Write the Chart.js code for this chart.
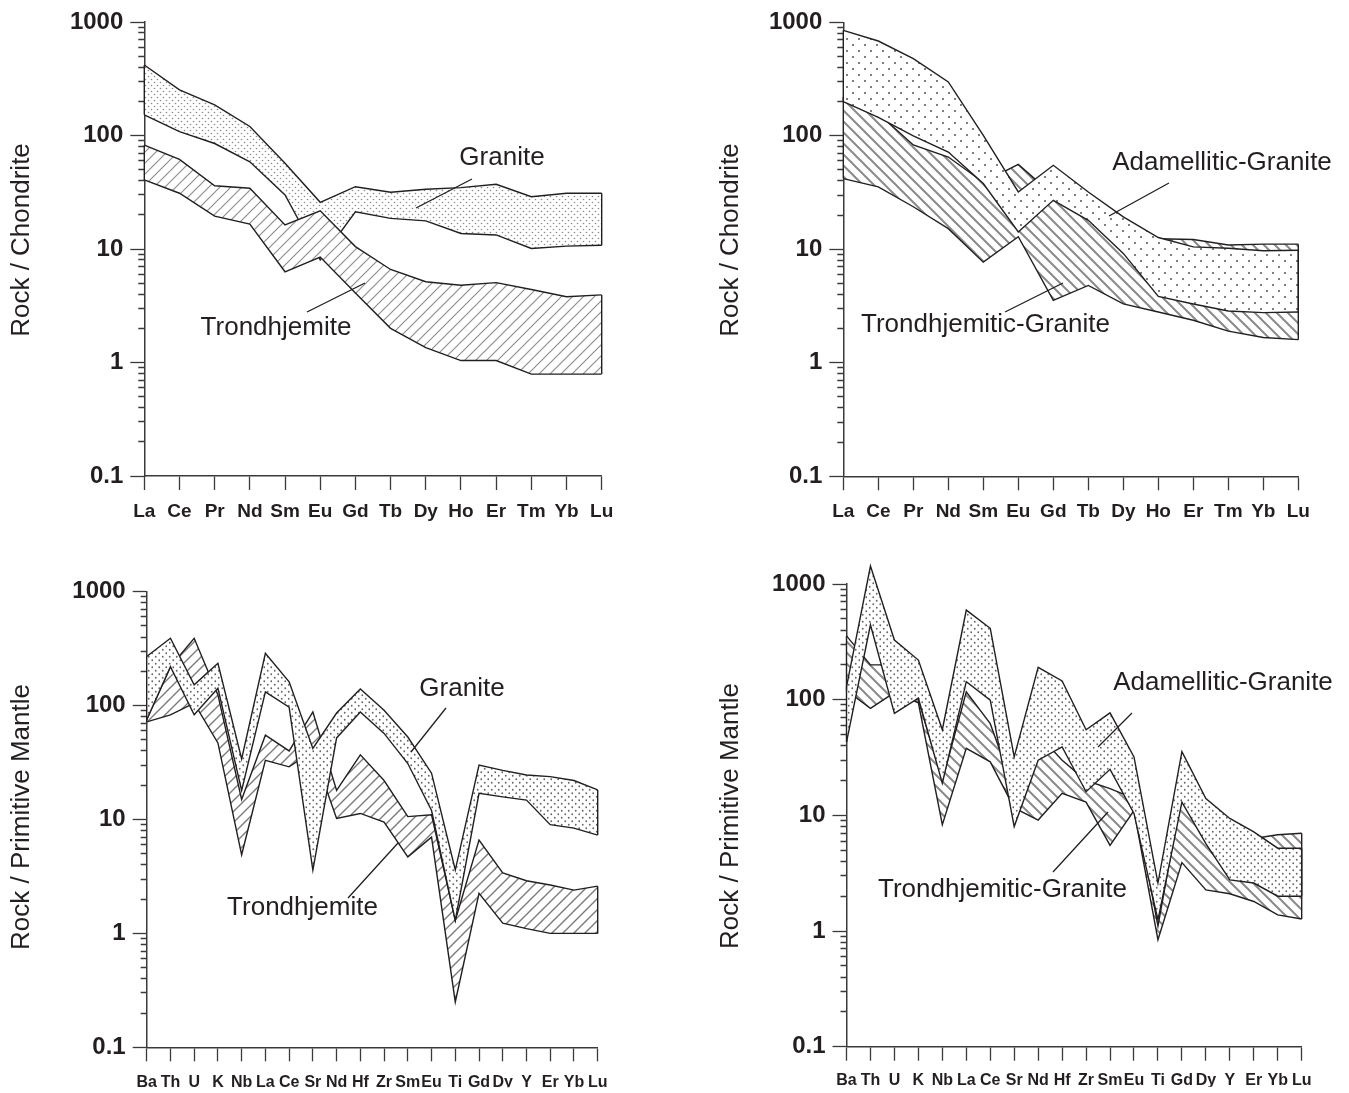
<!DOCTYPE html>
<html>
<head>
<meta charset="utf-8">
<script src="https://cdn.jsdelivr.net/npm/chart.js@4.4.0/dist/chart.umd.min.js"></script>
<style>
  html, body { margin: 0; padding: 0; background: #fff; }
  #wrap { position: relative; width: 1349px; height: 1093px; overflow: hidden; }
  .panel { position: absolute; }
</style>
</head>
<body>
<div id="wrap">
  <div class="panel" style="left:0;top:0"><canvas id="c1" width="640" height="545"></canvas></div>
  <div class="panel" style="left:700px;top:0"><canvas id="c2" width="649" height="545"></canvas></div>
  <div class="panel" style="left:0;top:550px"><canvas id="c3" width="640" height="543"></canvas></div>
  <div class="panel" style="left:700px;top:550px"><canvas id="c4" width="649" height="543"></canvas></div>
</div>
<script>
// categories
const reeLabels = ['La', 'Ce', 'Pr', 'Nd', 'Sm', 'Eu', 'Gd', 'Tb', 'Dy', 'Ho', 'Er', 'Tm', 'Yb', 'Lu'];
const spiderLabels = ['Ba', 'Th', 'U', 'K', 'Nb', 'La', 'Ce', 'Sr', 'Nd', 'Hf', 'Zr', 'Sm', 'Eu', 'Ti', 'Gd', 'Dy', 'Y', 'Er', 'Yb', 'Lu'];
const yMajorTicks = [0.1, 1, 10, 100, 1000];

// top left: REE / chondrite
const p1GraniteHi = [418, 252, 186, 120, 57, 25.8, 35.4, 31.6, 33.6, 34.7, 37.2, 28.9, 31, 31];
const p1GraniteLo = [152, 108, 85, 58.7, 29.9, 8, 21.3, 18.6, 17.7, 13.7, 13.3, 10.1, 10.6, 10.8];
const p1TrondHi = [82.4, 61.6, 36.1, 34.3, 16.3, 21.7, 10.5, 6.6, 5.15, 4.8, 5.05, 4.4, 3.8, 3.94];
const p1TrondLo = [40.6, 31, 19.5, 16.6, 6.3, 8.5, 4.1, 2.0, 1.35, 1.04, 1.04, 0.79, 0.79, 0.79];

// top right: REE / chondrite
const p2AdamHi = [850, 684, 479, 298, 101, 32, 55, 32, 19.3, 12.7, 10.5, 10.2, 9.7, 9.8];
const p2AdamLo = [200, 145, 100, 72, 38, 14.2, 27, 18, 9.2, 3.85, 3.3, 2.86, 2.77, 2.8];
const p2TrondHi = [221, 157, 83, 65, 39, 56, 30, 20, 11, 12.4, 12.2, 10.9, 11.1, 11.1];
const p2TrondLo = [42, 35.5, 23.7, 15.2, 7.7, 12.9, 3.55, 4.8, 3.3, 2.8, 2.37, 1.9, 1.67, 1.6];

// bottom left: spider / primitive mantle
const p3GraniteHi = [270, 390, 152, 235, 34, 288, 162, 42, 86, 140, 91, 53, 25.5, 3.6, 30, 27, 24.6, 23.8, 22, 18.2];
const p3GraniteLo = [75, 220, 83, 142, 18, 132, 97, 3.6, 52, 88, 57, 31, 12, 1.3, 17, 15.8, 14.8, 9, 8.4, 7.3];
const p3TrondHi = [75, 220, 390, 124, 15, 55, 40, 88, 18, 37, 22, 10.6, 11, 1.3, 6.6, 3.4, 2.9, 2.66, 2.4, 2.6];
const p3TrondLo = [72, 83, 105, 47, 4.9, 33, 29, 40, 10.2, 11.3, 9.5, 4.7, 7, 0.25, 2.25, 1.23, 1.1, 1.0, 1.0, 1.0];

// bottom right: spider / primitive mantle
const p4AdamHi = [129, 1430, 328, 220, 55, 595, 414, 32, 190, 145, 55, 77, 32, 2.6, 35.6, 14, 9.4, 7.2, 5.2, 5.2];
const p4AdamLo = [43, 443, 76, 103, 19, 143, 99, 8, 30, 39, 16, 25, 10.4, 1.25, 13, 5.7, 2.77, 2.6, 2.0, 2.0];
const p4TrondHi = [356, 200, 200, 100, 20, 117, 62, 16.6, 50, 30, 20, 17, 14, 1.1, 15.5, 8, 6.5, 6.3, 6.8, 7.0];
const p4TrondLo = [120, 84, 115, 94, 8.3, 38, 29, 11.6, 9.1, 15.5, 13, 5.5, 11, 0.84, 3.9, 2.27, 2.1, 1.8, 1.38, 1.27];

const FONT = '"Liberation Sans", Arial, Helvetica, sans-serif';
const INK = '#231f20';
const AXIS = '#3a3a3a';

// alle kleinen Striche der log-Achse
function logTicks() {
  const out = [];
  for (let i = 0; i < yMajorTicks.length - 1; i++) {
    for (let k = 1; k < 10; k++) {
      out.push(Number((yMajorTicks[i] * k).toPrecision(2)));
    }
  }
  out.push(yMajorTicks[yMajorTicks.length - 1]);
  return out;
}

// Punktraster
function stipple(w, h, r, color) {
  const c = document.createElement('canvas');
  c.width = w; c.height = h;
  const g = c.getContext('2d');
  g.fillStyle = '#fff';
  g.fillRect(0, 0, w, h);
  g.fillStyle = color;
  [[w * 0.25, h * 0.25], [w * 0.75, h * 0.75]].forEach(function(p) {
    g.beginPath();
    g.arc(p[0], p[1], r, 0, Math.PI * 2);
    g.fill();
  });
  return g.createPattern(c, 'repeat');
}

// Schraffur, dir > 0 = '/', sonst '\'
function hatch(s, dir, width, color) {
  const c = document.createElement('canvas');
  c.width = s; c.height = s;
  const g = c.getContext('2d');
  g.fillStyle = '#fff';
  g.fillRect(0, 0, s, s);
  g.strokeStyle = color;
  g.lineWidth = width;
  g.beginPath();
  if (dir > 0) {
    g.moveTo(-2, s + 2); g.lineTo(s + 2, -2);
    g.moveTo(-2, 2); g.lineTo(2, -2);
    g.moveTo(s - 2, s + 2); g.lineTo(s + 2, s - 2);
  } else {
    g.moveTo(-2, -2); g.lineTo(s + 2, s + 2);
    g.moveTo(s - 2, -2); g.lineTo(s + 2, 2);
    g.moveTo(-2, s - 2); g.lineTo(2, s + 2);
  }
  g.stroke();
  return g.createPattern(c, 'repeat');
}

function drawPanel(id, o) {
  const ctx = document.getElementById(id).getContext('2d');
  const labels = o.labels;
  const first = labels[0];
  const last = labels[labels.length - 1];
  const datasets = [];
  const edges = [];

  // bands[0] liegt oben
  o.bands.forEach(function(b) {
    datasets.push({
      data: b.hi, borderColor: INK, borderWidth: 1.4, pointRadius: 0, tension: 0, fill: false, clip: false
    });
    datasets.push({
      data: b.lo, borderColor: INK, borderWidth: 1.4, pointRadius: 0, tension: 0, clip: false,
      fill: '-1', backgroundColor: b.pattern
    });
    edges.push([{x: first, y: b.hi[0]}, {x: first, y: b.lo[0]}]);
    edges.push([{x: last, y: b.hi[b.hi.length - 1]}, {x: last, y: b.lo[b.lo.length - 1]}]);
  });
  edges.forEach(function(e) {
    datasets.push({
      data: e, borderColor: INK, borderWidth: 1.4, pointRadius: 0, fill: false, order: -1, clip: false
    });
  });

  // Werte über 1000 sollen nicht abgeschnitten werden (auch die Füllung)
  let saved = null;
  const noClip = {
    id: 'noclip_' + id,
    beforeDatasetsDraw: function(chart) {
      const ys = chart.scales.y;
      saved = { area: chart.chartArea.top, scale: ys.top };
      chart.chartArea.top = saved.area - 40;
      ys.top = saved.scale - 40;
    },
    afterDatasetsDraw: function(chart) {
      if (saved) {
        chart.chartArea.top = saved.area;
        chart.scales.y.top = saved.scale;
        saved = null;
      }
    }
  };

  const notes = {
    id: 'notes_' + id,
    afterDraw: function(chart) {
      const c = chart.ctx;
      c.save();
      c.fillStyle = INK;
      c.textAlign = 'center';
      c.textBaseline = 'middle';
      c.strokeStyle = INK;
      c.lineWidth = 1.3;
      c.font = '26px ' + FONT;
      o.notes.forEach(function(n) {
        c.fillText(n.text, n.x, n.y);
        c.beginPath();
        c.moveTo(n.line[0], n.line[1]);
        c.lineTo(n.line[2], n.line[3]);
        c.stroke();
      });
      // Achsentitel
      c.translate(o.title.x, o.title.y);
      c.rotate(-Math.PI / 2);
      c.fillText(o.title.text, 0, 0);
      c.restore();
    }
  };

  return new Chart(ctx, {
    type: 'line',
    data: { labels: labels, datasets: datasets },
    options: {
      responsive: false,
      animation: false,
      devicePixelRatio: 1,
      layout: { padding: o.padding },
      plugins: { legend: { display: false }, tooltip: { enabled: false } },
      scales: {
        x: {
          type: 'category',
          offset: false,
          border: { color: AXIS, width: 1.5 },
          grid: { drawOnChartArea: false, drawTicks: true, tickLength: 14, tickColor: AXIS, tickWidth: 1.3 },
          ticks: {
            autoSkip: false, maxRotation: 0, minRotation: 0, padding: o.xPad, color: INK,
            font: { family: FONT, size: o.xFont, weight: 'bold' }
          },
          afterFit: function(s) { s.height = o.xHeight; }
        },
        y: {
          type: 'logarithmic',
          min: 0.1,
          max: 1000,
          border: { color: AXIS, width: 1.5 },
          grid: {
            drawOnChartArea: false, drawTicks: true, tickLength: 14, tickColor: AXIS, tickWidth: 1.3,
            tickBorderDash: function(c) {
              return (c.tick && yMajorTicks.indexOf(c.tick.value) < 0) ? [0, 8, 20, 0] : [];
            }
          },
          ticks: {
            autoSkip: false, padding: 7, color: INK,
            font: { family: FONT, size: 24, weight: 'bold' },
            callback: function(v) { return yMajorTicks.indexOf(v) >= 0 ? String(v) : ''; }
          },
          afterBuildTicks: function(s) {
            s.ticks = logTicks().map(function(v) { return { value: v }; });
          },
          afterFit: function(s) { s.width = o.yWidth; }
        }
      }
    },
    plugins: [noClip, notes]
  });
}

// Panel 1
drawPanel('c1', {
  labels: reeLabels,
  bands: [
    { hi: p1TrondHi, lo: p1TrondLo, pattern: hatch(11, 1, 1.2, '#8f8f8f') },
    { hi: p1GraniteHi, lo: p1GraniteLo, pattern: stipple(6, 6, 0.8, '#8a8a8a') }
  ],
  title: { text: 'Rock / Chondrite', x: 22, y: 240 },
  yWidth: 144.3, xHeight: 50, xFont: 19, xPad: 10,
  padding: { left: 0, top: 22, right: 38.3, bottom: 19 },
  notes: [
    { text: 'Granite', x: 502, y: 158, line: [472, 179, 416, 208] },
    { text: 'Trondhjemite', x: 276, y: 328, line: [307, 312, 365, 283] }
  ]
});

// Panel 2
drawPanel('c2', {
  labels: reeLabels,
  bands: [
    { hi: p2AdamHi, lo: p2AdamLo, pattern: stipple(12, 12, 1.0, '#555') },
    { hi: p2TrondHi, lo: p2TrondLo, pattern: hatch(11, -1, 2, '#8a8a8a') }
  ],
  title: { text: 'Rock / Chondrite', x: 31, y: 240 },
  yWidth: 143.3, xHeight: 50, xFont: 19, xPad: 10,
  padding: { left: 0, top: 22.3, right: 50.7, bottom: 18.7 },
  notes: [
    { text: 'Adamellitic-Granite', x: 522, y: 163, line: [469, 183, 409, 216] },
    { text: 'Trondhjemitic-Granite', x: 285.5, y: 325, line: [305, 312, 363, 283] }
  ]
});

// Panel 3
drawPanel('c3', {
  labels: spiderLabels,
  bands: [
    { hi: p3GraniteHi, lo: p3GraniteLo, pattern: stipple(7, 7, 0.9, '#666') },
    { hi: p3TrondHi, lo: p3TrondLo, pattern: hatch(11, 1, 1.4, '#7a7a7a') }
  ],
  title: { text: 'Rock / Primitive Mantle', x: 22, y: 267 },
  yWidth: 146.7, xHeight: 40, xFont: 16, xPad: 12,
  padding: { left: 0, top: 41.7, right: 42.3, bottom: 5.7 },
  notes: [
    { text: 'Granite', x: 462, y: 139, line: [446, 158, 411, 202] },
    { text: 'Trondhjemite', x: 302.5, y: 358, line: [348, 348, 398, 293] }
  ]
});

// Panel 4
drawPanel('c4', {
  labels: spiderLabels,
  bands: [
    { hi: p4AdamHi, lo: p4AdamLo, pattern: stipple(7, 7, 0.9, '#666') },
    { hi: p4TrondHi, lo: p4TrondLo, pattern: hatch(11, -1, 2, '#8a8a8a') }
  ],
  title: { text: 'Rock / Primitive Mantle', x: 31, y: 266 },
  yWidth: 146.5, xHeight: 40, xFont: 16, xPad: 10.7,
  padding: { left: 0, top: 34, right: 47.3, bottom: 6.3 },
  notes: [
    { text: 'Adamellitic-Granite', x: 523, y: 133, line: [432, 163, 398, 197] },
    { text: 'Trondhjemitic-Granite', x: 302.5, y: 340, line: [353, 322, 408, 262] }
  ]
});
</script>
</body>
</html>
